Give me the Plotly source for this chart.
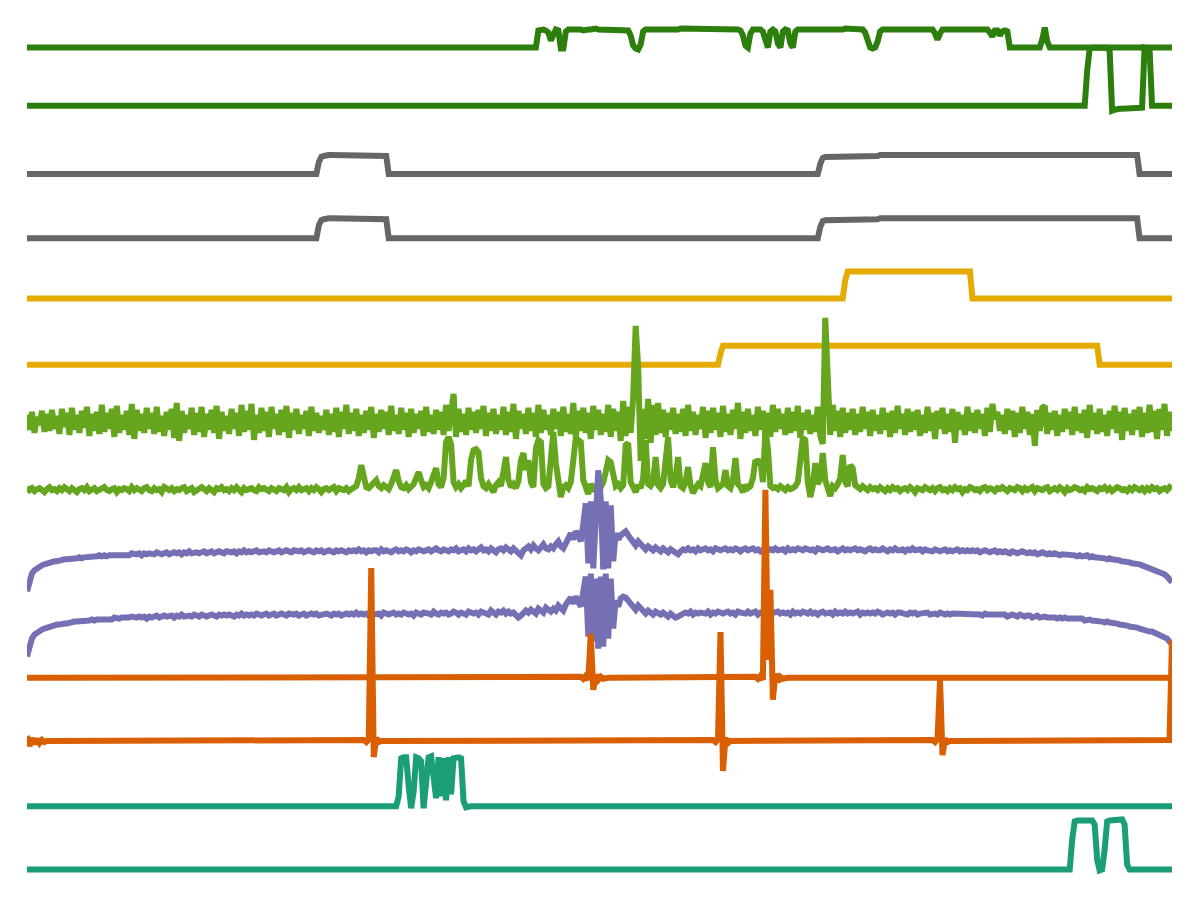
import numpy as np
import plotly.graph_objects as go

# ---- data: each channel sampled uniformly across the recording (460 samples) ----
# values = signal height (screen-unit amplitude) relative to the channel lane
ch01 = ([0] * 205
        + [17, 18, 18, 17, 15] + [7] + [15, 18, 17] + [-1, -1]
        + [16, 18, 18, 18, 19, 18, 18, 17, 18, 18, 18, 19, 19, 18, 18, 18, 18, 17,
           17, 18, 18, 18, 18, 17, 17, 17, 12]
        + [2, -1, -2, 3]
        + [16, 18, 18, 17, 17, 18, 18, 18, 18, 17, 17, 17, 18, 18, 18, 19, 19, 19,
           18, 18, 18, 18, 18, 18, 18, 19, 19, 19, 18, 18, 18, 18, 18, 18, 18, 18,
           18, 18, 18, 17, 12]
        + [2, 0] + [14, 18, 18, 18, 18, 16] + [6, 0] + [16, 18, 16] + [4, 0]
        + [16, 18, 17] + [4, 0]
        + [16, 18, 18, 18, 18, 18, 18, 18, 18, 18, 18, 17, 17, 18, 18, 18, 18, 18,
           18, 18, 19, 19, 19, 19, 18, 18, 18, 18, 15]
        + [6, 0, -1, 0, 6]
        + [16, 18, 18, 18, 18, 18, 19, 19, 19, 18, 18, 18, 18, 18, 18, 18, 18, 18,
           18, 18, 18, 18, 14]
        + [8]
        + [14, 18, 18, 18, 18, 18, 18, 18, 18, 19, 19, 19, 19, 19, 18, 18, 18, 18,
           18, 18, 15]
        + [11] + [17, 17] + [12] + [16, 17, 16]
        + [0] * 13 + [8, 20, 6] + [0] * 50)

ch02 = ([5] * 425
        + [40, 62, 63, 63, 63, 63, 63, 63, 63, 60, 0, 1,
           2, 2, 2, 2, 2, 2, 2, 2, 2, 3, 3, 63, 63, 62, 5]
        + [5] * 8)

ch03 = ([0] * 117 + [12, 17, 18] + [19] * 24 + [18]
        + [0] * 173 + [10] + [16, 17, 17] + [18] * 20 + [19] * 104 + [0] * 14)

ch04 = ([-1] * 117 + [12, 17, 18] + [19] * 24 + [18]
        + [-1] * 173 + [10] + [16, 17, 17] + [18] * 20 + [19] * 104 + [-1] * 14)

ch05 = [2] * 328 + [20] + [29] * 50 + [2] * 81

ch06 = [-1] * 278 + [10] + [18] * 151 + [-1] * 30

ch07 = [12, -3, 15, -6, 10, 2, 16, -5, 13, -4,
        17, -2, 11, -7, 18, 0, 14, -8, 19, -3,
        12, -6, 16, -1, 20, -9, 13, -4, 15, -7,
        22, -5, 14, -2, 18, -10, 21, -6, 12, -3,
        16, -8, 23, -12, 17, -4, 13, -6, 19, -2,
        14, -7, 20, -5, 11, -9, 15, -3, 18, -11,
        24, -14, 16, -6, 12, -2, 19, -8, 14, -5,
        20, -10, 13, -3, 17, -6, 21, -12, 15, -4,
        11, -7, 18, -2, 14, -9, 22, -5, 16, -3,
        23, -13, 12, -6, 19, -4, 15, -10, 20, -2,
        13, -8, 17, -5, 21, -11, 14, -3, 18, -7,
        12, -2, 16, -9, 20, -4, 14, -6, 11, -3,
        17, -8, 13, -5, 19, -10, 15, -2, 22, -7,
        14, -4, 18, -9, 12, -6, 16, -3, 20, -11,
        13, -5, 17, -2, 15, -8, 21, -4, 12, -7,
        19, -3, 14, -10, 18, -6, 13, -2, 16, -9,
        20, -5, 12, -7, 17, -3, 15, -8, 22, -4,
        14, 33, -10, 18, -5, 13, -8, 19, -3, 15,
        -6, 17, -2, 21, -9, 14, -4, 18, -7, 12,
        -3, 20, -8, 15, -5, 23, -12, 16, -2, 13,
        -7, 19, -4, 14, -10, 22, -6, 17, -3, 12,
        -8, 18, -2, 15, -9, 20, -5, 13, -7, 24,
        -11, 16, -4, 19, -6, 14, -12, 21, -3, 17,
        -8, 13, -5, 22, -10, 18, -4, 15, -14, 26,
        -9, 20, -6, 30, 101, 60, -34, 18, -12, 28,
        -16, 22, -8, 24, -6, 17, -10, 14, -3, 19,
        -7, 13, -5, 18, -9, 22, -4, 15, -8, 12,
        -2, 20, -11, 16, -6, 19, -3, 14, -10, 21,
        -5, 13, -8, 17, -2, 24, -12, 15, -6, 18,
        -4, 12, -9, 20, -3, 16, -7, 14, -10, 22,
        -5, 18, -2, 13, -8, 19, -6, 15, -4, 21,
        -11, 14, -3, 17, -7, 12, -5, 20, -9, -17,
        109, 40, -8, 22, -4, 16, -10, 19, -6, 14,
        -3, 18, -8, 13, -5, 20, -2, 15, -9, 17,
        -4, 12, -7, 19, -3, 14, -10, 16, -6, 21,
        -2, 13, -8, 18, -5, 15, -3, 17, -9, 12,
        -6, 20, -4, 14, -12, 16, -2, 19, -7, 13,
        -5, 18, -16, 15, -3, 12, -8, 20, -4, 14,
        -6, 17, -2, 13, -9, 19, -5, 23, 8, 15,
        -4, 12, -7, 18, -3, 16, -10, 14, -6, 20,
        -2, 15, -8, 13, -19, 17, -4, 19, 21, -7,
        14, -3, 16, -9, 12, -5, 18, -2, 15, -8,
        20, -4, 13, -6, 17, -11, 22, -3, 14, -7,
        18, -5, 12, -9, 16, -2, 21, -6, 15, -13,
        19, -4, 13, -8, 17, -3, 20, -10, 14, -6,
        22, -5, 16, -12, 18, -3, 23, -9, 15, -4]

ch08 = [3, 0, 2, -1, 1, 2, 0, -2, 1, 3,
        0, 1, -1, 2, 0, 3, 1, -1, 2, 0,
        -2, 1, 2, 0, 3, -1, 1, 2, -1, 0,
        2, 3, 0, -1, 1, 2, -2, 1, 0, 2,
        1, -1, 3, 0, 2, 1, -1, 2, 3, 0,
        -1, 2, 0, 1, -2, 3, 1, 0, 2, -1,
        1, 0, 2, 3, -1, 1, 2, -2, 0, 1,
        3, 1, -1, 2, 0, -2, 2, 1, 3, 0,
        1, -1, 2, 0, 3, 1, -2, 2, 0, 1,
        2, 0, -1, 3, 1, 2, 0, -1, 2, 1,
        -1, 2, 1, 0, 3, -2, 1, 2, 0, 3,
        0, 1, 2, -1, 2, 0, 3, 1, -2, 1,
        2, 0, 1, 3, -1, 2, 1, 0, 2, -1,
        1, 3, 4, 12, 25, 14, 3, 2, 5, 8,
        10, 4, 2, 5, 3, 1, 6, 12, 20, 9,
        3, 2, 5, 1, 4, 6, 12, 18, 10, 3,
        5, 2, 8, 16, 22, 6, 3, 12, 48, 53,
        46, 8, 3, 6, 2, 5, 9, 4, 30, 40,
        41, 38, 12, 4, 2, 6, 3, -2, 5, 8,
        4, 18, 33, 10, 3, 6, 2, 9, 30, 37,
        20, 30, 8, 3, 42, 50, 48, 6, 2, 4,
        35, 58, 27, 6, -7, 3, 5, 2, 8, 30,
        52, 50, 48, 10, 3, -4, 6, 2, 5, -6,
        3, 8, 18, 30, 28, 12, 4, 6, 2, 5,
        45, 47, 8, 3, -2, 5, 2, 12, 50, 6,
        4, 8, 33, 5, 2, 6, 30, 53, 10, 3,
        12, 33, 4, 2, 8, 23, 5, -3, 2, 6,
        4, 20, 27, 8, 3, 43, 10, 2, 5, 6,
        20, 4, 2, 10, 32, 6, 3, -2, 5, 2,
        4, 12, 30, 28, 30, 8, 60, 42, 4, 2,
        3, 1, 4, 2, 0, 3, 1, 2, 4, 8,
        30, 52, 50, 8, -7, 4, 27, 6, 12, 37,
        10, 3, -6, 4, 2, 6, 12, 35, 8, 4,
        25, 22, 5, 3, 1, 4, 2, 0, 3, 1,
        2, 0, 3, 1, -1, 2, 0, 3, 1, 2,
        -1, 1, 2, 0, 3, 1, -2, 2, 1, 0,
        3, 1, 0, 2, -1, 2, 3, 0, 1, -1,
        2, 0, 3, 1, 2, -2, 1, 0, 3, 2,
        0, 1, -1, 2, 3, 0, 2, 1, -1, 2,
        1, 3, 0, -1, 2, 1, 0, 3, 2, -1,
        2, 0, 1, 3, -1, 2, 1, 0, 2, 3,
        -1, 1, 2, 0, 3, 1, -2, 2, 0, 1,
        3, 2, 0, 1, -1, 3, 1, 2, 0, -1,
        2, 1, 3, 0, 2, -1, 1, 3, 2, 0,
        1, -1, 2, 0, 3, 1, 0, 2, -1, 2,
        0, 3, 1, 2, -1, 1, 2, 0, 3, 1]

ch09 = [-38, -26, -20, -17, -15, -13, -12, -11, -10, -9,
        -9, -8, -8, -7, -7, -6, -6, -6, -5, -5,
        -5, -4, -5, -4, -4, -3, -4, -3, -3, -2,
        -3, -2, -3, -2, -2, -1, -2, -1, -2, -1,
        -1, -2, 0, -1, -1, 0, -2, 0, -1, 0,
        0, -1, 1, 0, -1, 0, 1, -1, 0, 1,
        0, 1, -1, 1, 0, 2, 0, 1, 1, 0,
        1, 2, 0, 1, 2, 0, 1, 2, 1, 0,
        2, 1, 1, 2, 0, 2, 1, 3, 1, 2,
        1, 2, 3, 1, 2, 2, 1, 3, 2, 1,
        2, 3, 1, 2, 3, 2, 1, 3, 2, 2,
        3, 1, 2, 3, 2, 1, 3, 2, 3, 1,
        2, 3, 2, 1, 3, 2, 3, 2, 1, 3,
        2, 3, 2, 4, 2, 3, 1, 3, 2, 3,
        3, 1, 4, 2, 3, 2, 1, 3, 4, 2,
        3, 2, 4, 3, 1, 3, 2, 4, 3, 2,
        3, 4, 2, 3, 5, 3, 2, 4, 3, 2,
        4, 3, 5, 2, 3, 4, 2, 5, 3, 4,
        2, 4, 6, 3, 4, 2, 5, 3, 1, 4,
        5, 3, 6, 4, 2, 5, 3, 0, -2, 3,
        5, 7, 4, 8, 5, 3, 6, 9, 5, 4,
        7, 5, 9, 12, 7, 5, 10, 16, 20, 14,
        22, 18, 12, 30, 50, -10, 52, -15, 50, 83,
        55, -16, 52, -15, 48, -8, 20, 14, 18, 21,
        22, 18, 15, 10, 8, 12, 9, 6, 4, 7,
        5, 3, 6, 4, 2, 5, 3, 1, 4, 2,
        0, -1, 2, 4, 3, 5, 3, 4, 2, 5,
        3, 4, 5, 3, 4, 2, 5, 4, 3, 4,
        5, 3, 4, 3, 5, 4, 2, 4, 5, 3,
        4, 5, 3, 4, 2, 4, 5, 3, 4, 3,
        5, 3, 4, 4, 2, 5, 3, 4, 3, 5,
        4, 3, 5, 4, 3, 4, 2, 5, 4, 3,
        4, 5, 3, 3, 4, 2, 4, 5, 3, 4,
        3, 4, 5, 3, 4, 3, 2, 4, 5, 3,
        4, 3, 3, 5, 4, 2, 4, 3, 5, 3,
        3, 4, 2, 4, 3, 5, 3, 3, 4, 2,
        4, 3, 3, 2, 4, 3, 2, 3, 4, 2,
        3, 2, 3, 4, 2, 3, 2, 3, 2, 3,
        2, 3, 1, 2, 3, 2, 1, 2, 3, 1,
        2, 1, 2, 1, 0, 2, 1, 0, 1, 2,
        1, 0, 1, 0, 1, -1, 0, 1, 0, -1,
        0, -1, 0, -1, -2, -1, -1, -2, -1, -2,
        -2, -3, -2, -3, -3, -2, -4, -3, -4, -4,
        -5, -4, -5, -6, -5, -6, -6, -7, -7, -8,
        -8, -9, -9, -10, -10, -11, -11, -12, -13, -13,
        -14, -15, -16, -17, -18, -19, -21, -23, -26, -29]

ch10 = [-40, -28, -22, -18, -16, -14, -13, -12, -11, -10,
        -9, -9, -8, -8, -7, -7, -7, -6, -6, -5,
        -5, -5, -4, -5, -4, -4, -3, -4, -3, -3,
        -2, -3, -2, -2, -3, -1, -2, -2, -1, -1,
        -2, -1, 0, -1, -1, 0, -1, 0, -2, 0,
        -1, 0, 1, -1, 0, 1, 0, 0, 1, -1,
        1, 0, 2, 0, 1, 1, 0, 2, 1, 0,
        2, 1, 0, 1, 2, 1, 0, 2, 1, 2,
        1, 2, 1, 0, 2, 1, 3, 1, 2, 1,
        2, 1, 3, 2, 1, 2, 3, 1, 2, 3,
        1, 2, 3, 2, 1, 3, 2, 2, 3, 1,
        2, 3, 1, 2, 3, 2, 3, 1, 2, 3,
        3, 2, 1, 3, 2, 3, 1, 2, 3, 2,
        3, 2, 4, 2, 3, 2, 3, 1, 4, 2,
        2, 3, 1, 4, 3, 2, 3, 4, 2, 3,
        2, 4, 3, 2, 3, 1, 4, 3, 2, 4,
        4, 3, 2, 5, 3, 2, 4, 3, 4, 2,
        3, 5, 4, 2, 4, 3, 2, 5, 4, 3,
        4, 2, 5, 4, 3, 2, 6, 3, 2, 5,
        4, 6, 3, 5, 3, 4, 2, -1, 1, 4,
        6, 4, 7, 5, 3, 8, 6, 4, 9, 6,
        5, 8, 6, 11, 8, 6, 12, 17, 19, 13,
        20, 15, 10, 25, 40, -20, 43, -25, 38, -32,
        40, -30, 43, -22, 38, -12, 16, 10, 18, 20,
        19, 16, 13, 9, 7, 11, 8, 5, 3, 6,
        4, 2, 5, 3, 2, 4, 2, 0, 3, 1,
        -1, 0, 2, 3, 4, 3, 5, 2, 4, 3,
        4, 3, 3, 5, 2, 4, 3, 5, 4, 3,
        4, 5, 3, 4, 2, 5, 4, 3, 3, 5,
        3, 4, 5, 2, 4, 3, 4, 5, 3, 4,
        4, 5, 3, 4, 3, 4, 2, 5, 3, 4,
        3, 5, 4, 3, 5, 3, 4, 2, 4, 5,
        3, 4, 4, 2, 5, 3, 4, 3, 5, 3,
        4, 3, 4, 5, 2, 4, 3, 4, 3, 4,
        3, 5, 4, 2, 3, 4, 3, 4, 2, 4,
        4, 3, 3, 2, 4, 3, 4, 2, 3, 3,
        3, 4, 2, 3, 3, 2, 4, 3, 2, 3,
        2, 3, 3, 2, 3, 2, 2, 3, 3, 2,
        3, 2, 2, 1, 3, 2, 2, 1, 2, 2,
        1, 2, 2, 0, 1, 2, 1, 0, 2, 1,
        0, 1, 1, -1, 0, 1, -1, 0, 0, -1,
        -1, 0, -1, -2, -1, -2, -1, -2, -2, -3,
        -2, -3, -3, -2, -4, -3, -3, -4, -4, -5,
        -4, -5, -6, -5, -6, -6, -7, -7, -8, -8,
        -9, -9, -10, -10, -11, -11, -12, -13, -13, -14,
        -15, -15, -16, -17, -18, -19, -20, -22, -25, -28]

ch11 = ([2] * 222 + [3, 1, 4, 0, 46, -10, 5, 0, 3, 1]
        + [2] * 60 + [3, 1, 4, 0, 190, 20, 90, -20, 6, -2, 3, 1]
        + [2] * 156)

ch12 = ([7, -3, 5, -1, 4, 0, 3, 1, 2, 2] + [2] * 125
        + [3, 1, 4, 175, -14, 5, 1] + [2] * 133
        + [3, 1, 4, 111, -28, 5, 0, 2] + [2] * 80
        + [3, 1, 4, 63, -12, 4, 1] + [2] * 88 + [3, 103])

ch13 = ([0] * 149
        + [10, 48, 49, 49, 20, -2, 15, 49, 48, 45, -2, 20, 49, 50,
           30, 8, 49, 10, 48, 6, 49, 12, 48, 49, 49, 48, 5, -1]
        + [0] * 283)

ch14 = ([0] * 419
        + [30, 48, 49, 49, 49, 49, 49, 49, 49, 45, 10, -1,
           0, 20, 48, 49, 49, 49, 49, 49, 50, 45, 5, 0]
        + [0] * 17)

channels = [ch01, ch02, ch03, ch04, ch05, ch06, ch07,
            ch08, ch09, ch10, ch11, ch12, ch13, ch14]

# ---- styles ----
colors = ["#2c7f0c", "#2c7f0c", "#666666", "#666666", "#e6ab02", "#e6ab02",
          "#66a61e", "#66a61e", "#7570b3", "#7570b3", "#d95f02", "#d95f02",
          "#1b9e77", "#1b9e77"]

W, H = 1200, 900
LANE0, LANE_STEP = 47.5, 63.23   # lane centre positions in screen units
T_END = 1.0

fig = go.Figure()
for i, (vals, col) in enumerate(zip(channels, colors)):
    v = np.asarray(vals, dtype=float)
    x = np.linspace(0.0, T_END, len(v))
    y = -(LANE0 + LANE_STEP * i) + v
    fig.add_trace(go.Scatter(x=x, y=y, mode="lines",
                             line=dict(color=col, width=6),
                             hoverinfo="skip", showlegend=False))

fig.update_layout(
    width=W, height=H,
    margin=dict(l=27, r=28, t=0, b=0),
    paper_bgcolor="white", plot_bgcolor="white",
    xaxis=dict(range=[0, T_END], visible=False, showgrid=False, zeroline=False),
    yaxis=dict(range=[-H, 0], visible=False, showgrid=False, zeroline=False),
    showlegend=False,
)

fig.write_html("out.html")
